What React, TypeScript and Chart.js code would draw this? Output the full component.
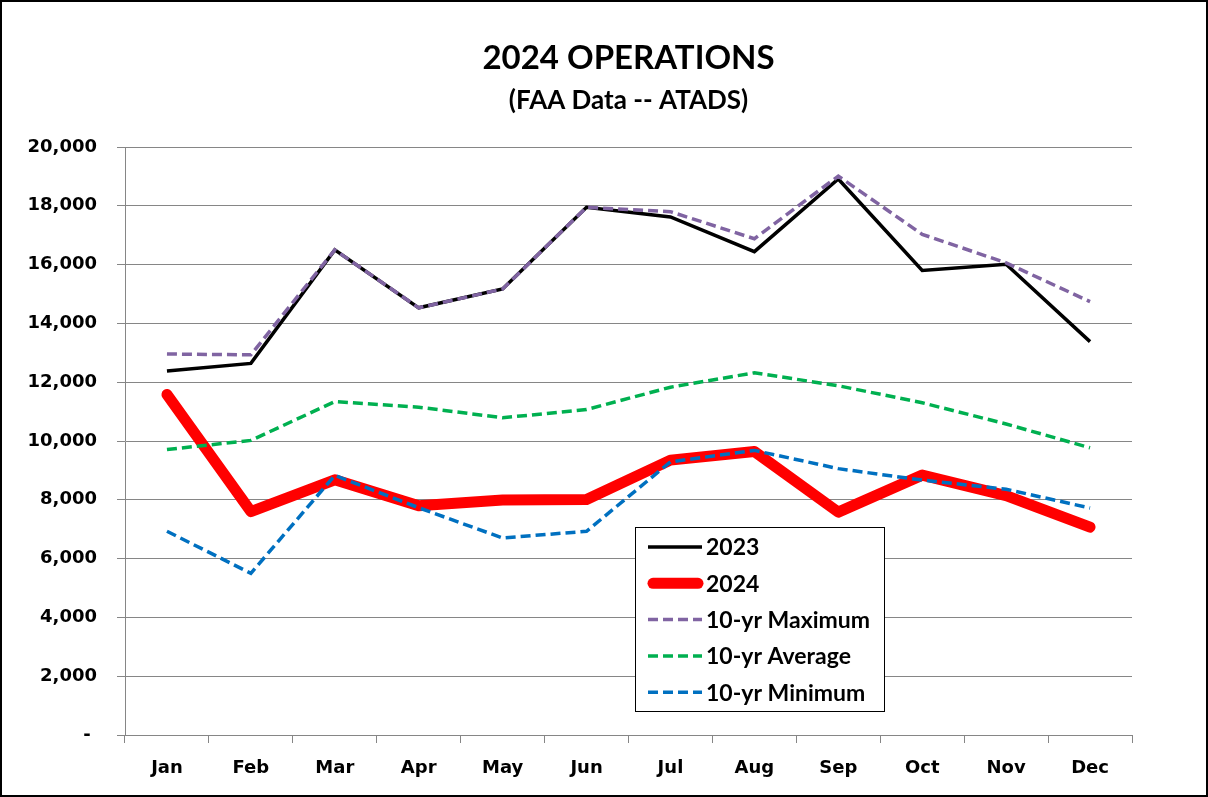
import React, { useEffect, useRef } from "react";
import { Chart, registerables } from "chart.js";

Chart.register(...registerables);

const months = ["Jan", "Feb", "Mar", "Apr", "May", "Jun", "Jul", "Aug", "Sep", "Oct", "Nov", "Dec"];
const ops2023 = [12380, 12640, 16500, 14530, 15170, 17950, 17620, 16440, 18910, 15800, 16010, 13380];
const ops2024 = [11580, 7600, 8680, 7800, 7990, 8010, 9350, 9640, 7580, 8840, 8140, 7070];
const max10 = [12960, 12930, 16500, 14530, 15170, 17950, 17800, 16880, 19010, 17030, 16060, 14740];
const avg10 = [9710, 10020, 11340, 11150, 10790, 11070, 11830, 12320, 11880, 11300, 10580, 9770];
const min10 = [6930, 5500, 8830, 7730, 6700, 6930, 9290, 9680, 9060, 8670, 8360, 7720];
const yTicks = [0, 2000, 4000, 6000, 8000, 10000, 12000, 14000, 16000, 18000, 20000];
const titleText = "2024 OPERATIONS";
const subtitleText = "(FAA Data -- ATADS)";

const centeredTitles = {
  id: "centeredTitles",
  afterDraw(chart: any) {
    const ctx = chart.ctx;
    const cx = (chart.chartArea.left + chart.chartArea.right) / 2;
    ctx.save();
    ctx.fillStyle = "#000000";
    ctx.textAlign = "center";
    ctx.textBaseline = "middle";
    ctx.font = "bold 33px Lato";
    ctx.fillText(titleText, cx, 56.8);
    ctx.font = "bold 26px Lato";
    ctx.fillText(subtitleText, cx, 98.2);
    ctx.restore();
  },
};

const insideLegend = {
  id: "insideLegend",
  afterDraw(chart: any) {
    const ctx = chart.ctx;
    const x = 633, y = 525, w = 249, h = 184;
    ctx.save();
    ctx.fillStyle = "#ffffff";
    ctx.fillRect(x, y, w, h);
    ctx.strokeStyle = "#000000";
    ctx.lineWidth = 1;
    ctx.strokeRect(x + 0.5, y + 0.5, w, h);
    chart.data.datasets.forEach((ds: any, i: number) => {
      const cy = y + 20 + i * 36.3;
      ctx.beginPath();
      ctx.setLineDash(ds.borderDash || []);
      ctx.lineWidth = ds.borderWidth;
      ctx.strokeStyle = ds.borderColor;
      ctx.lineCap = ds.borderCapStyle || "butt";
      const round = ds.borderCapStyle === "round";
      ctx.moveTo(x + (round ? 18 : 13), cy);
      ctx.lineTo(x + (round ? 63 : 67), cy);
      ctx.stroke();
      ctx.setLineDash([]);
      ctx.fillStyle = "#000000";
      ctx.font = "bold 23px Lato";
      ctx.textBaseline = "middle";
      ctx.textAlign = "left";
      ctx.fillText(ds.label, x + 71, cy + 1);
    });
    ctx.restore();
  },
};

export default function App() {
  const ref = useRef<HTMLCanvasElement | null>(null);
  useEffect(() => {
    if (!ref.current) return;
    const chart = new Chart(ref.current, {
      type: "line",
      data: {
        labels: months,
        datasets: [
          { label: "2023", data: ops2023, borderColor: "#000000", borderWidth: 3.5, order: 5 },
          { label: "2024", data: ops2024, borderColor: "#ff0000", borderWidth: 11, borderCapStyle: "round", borderJoinStyle: "round", order: 4 },
          { label: "10-yr Maximum", data: max10, borderColor: "#8064a2", borderWidth: 3.5, borderDash: [10, 5], order: 3 },
          { label: "10-yr Average", data: avg10, borderColor: "#00b050", borderWidth: 3.5, borderDash: [10, 5], order: 2 },
          { label: "10-yr Minimum", data: min10, borderColor: "#0070c0", borderWidth: 3.5, borderDash: [10, 5], order: 1 },
        ] as any,
      },
      options: {
        responsive: false,
        animation: false,
        events: [],
        elements: { point: { radius: 0 }, line: { tension: 0 } },
        layout: { padding: { left: 10, right: 74, top: 145, bottom: 0 } },
        plugins: {
          legend: { display: false },
          tooltip: { enabled: false },
          title: { display: false },
          subtitle: { display: false },
        },
        scales: {
          x: {
            type: "category",
            offset: true,
            grid: { display: true, drawOnChartArea: false, offset: true, tickLength: 8, color: "#868686" },
            border: { display: true, color: "#868686" },
            ticks: { color: "#000", font: { family: "DejaVu Sans", size: 18, weight: "bold" }, padding: 15, maxRotation: 0 },
            afterFit: (s: any) => { s.height = 60; },
          },
          y: {
            type: "linear",
            min: 0,
            max: 20000,
            afterBuildTicks: (s: any) => { s.ticks = yTicks.map((v) => ({ value: v })); },
            grid: { color: "#868686", tickLength: 8 },
            border: { display: true, color: "#868686" },
            ticks: {
              color: "#000",
              padding: 20,
              font: { family: "DejaVu Sans", size: 18, weight: "bold" },
              callback: (v: any) => (Number(v) === 0 ? "- " : Number(v).toLocaleString("en-US")),
            },
            afterFit: (s: any) => { s.width = 113; },
          },
        },
      } as any,
      plugins: [centeredTitles, insideLegend],
    });
    return () => chart.destroy();
  }, []);
  return (
    <div
      style={{
        position: "absolute",
        left: 0,
        top: 0,
        width: 1208,
        height: 797,
        border: "2px solid #000",
        boxSizing: "border-box",
        background: "#fff",
      }}
    >
      <canvas ref={ref} width={1204} height={793} style={{ display: "block" }} />
    </div>
  );
}
